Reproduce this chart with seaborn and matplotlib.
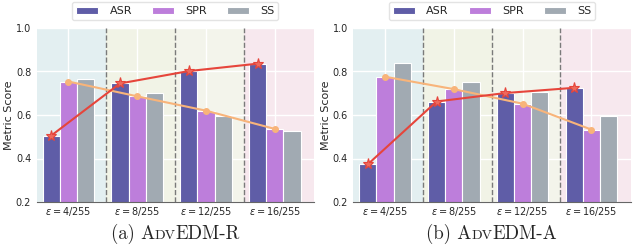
import numpy as np
import pandas as pd
import matplotlib
matplotlib.use("Agg")
import matplotlib.pyplot as plt
import seaborn as sns

# data
eps_labels = [r"$\varepsilon = 4/255$", r"$\varepsilon = 8/255$",
              r"$\varepsilon = 12/255$", r"$\varepsilon = 16/255$"]
metrics = ["ASR", "SPR", "SS"]

asr_r = [0.505, 0.745, 0.802, 0.836]
spr_r = [0.754, 0.686, 0.620, 0.536]
ss_r = [0.765, 0.700, 0.597, 0.526]

asr_a = [0.373, 0.662, 0.701, 0.725]
spr_a = [0.776, 0.719, 0.652, 0.533]
ss_a = [0.840, 0.751, 0.705, 0.595]

captions = [("(a) A", "DV", "EDM-R"), ("(b) A", "DV", "EDM-A")]

bar_colors = ["#5f5da7", "#bd7edb", "#a1aab2"]
region_colors = ["#e3eff1", "#f1f3e6", "#f3f4eb", "#f7e8ee"]
asr_line = "#e6453b"
spr_line = "#f8b47a"

sns.set_style("white")
plt.rcParams["font.family"] = ["DejaVu Sans"]

fig = plt.figure(figsize=(6.35, 2.45), dpi=100)
ax_w, ax_h = 277.3 / 635, 174 / 245
ax_b = 43 / 245
axes = [fig.add_axes([36.7 / 635, ax_b, ax_w, ax_h]),
        fig.add_axes([353.3 / 635, ax_b, ax_w, ax_h])]

panels = [(asr_r, spr_r, ss_r), (asr_a, spr_a, ss_a)]

for ax, (asr, spr, ss) in zip(axes, panels):
    df = pd.DataFrame({
        "eps": eps_labels * 3,
        "metric": np.repeat(metrics, len(eps_labels)),
        "score": asr + spr + ss,
    })
    # shaded regions per epsilon group
    edges = [-0.46, 0.55, 1.55, 2.55, 3.57]
    for i, c in enumerate(region_colors):
        ax.axvspan(edges[i], edges[i + 1], color=c, zorder=0, lw=0)
    for xv in edges[1:-1]:
        ax.axvline(xv, color="#7a7a7a", ls="--", lw=1.0, zorder=1.5)

    sns.barplot(data=df, x="eps", y="score", hue="metric", palette=bar_colors,
                width=0.75, edgecolor="white", linewidth=0.8, saturation=1,
                ax=ax, zorder=2)

    xs = np.arange(len(eps_labels))
    ax.plot(xs - 0.25, asr, color=asr_line, lw=1.5, marker="*", ms=8,
            markerfacecolor="#ee6a5e", markeredgecolor=asr_line, mew=0.8, zorder=4)
    ax.plot(xs, spr, color=spr_line, lw=1.5, marker="o", ms=4, zorder=3)

    ax.set_xlim(edges[0], edges[-1])
    ax.set_ylim(0.2, 1.0)
    ax.set_yticks([0.2, 0.4, 0.6, 0.8, 1.0])
    ax.set_xticks(xs)
    ax.set_xticklabels(eps_labels)
    ax.set_xlabel("")
    ax.set_ylabel("Metric Score", fontsize=8, labelpad=1)
    ax.tick_params(axis="y", labelsize=7, length=3, width=0.8, color="#333333", pad=1)
    ax.tick_params(axis="x", labelsize=7, length=0, pad=2)

    ax.set_axisbelow(True)
    ax.grid(True, color="white", lw=1.0)
    for s in ["left", "right", "top"]:
        ax.spines[s].set_visible(False)
    ax.spines["bottom"].set_color("#666666")
    ax.spines["bottom"].set_linewidth(0.8)

    handles, labels = ax.get_legend_handles_labels()
    ax.legend(handles, labels, ncol=3, loc="lower center",
              bbox_to_anchor=(0.5, 1.046), borderaxespad=0, fontsize=8,
              handlelength=2.0, handleheight=0.6, handletextpad=1.0,
              columnspacing=1.8, frameon=True, fancybox=True,
              edgecolor="#dddddd", borderpad=0.35)

# captions with small caps
fig.canvas.draw()
renderer = fig.canvas.get_renderer()
for ax, (p1, p2, p3) in zip(axes, captions):
    pos = ax.get_position()
    cx = (pos.x0 + pos.x1) / 2 * fig.bbox.width
    y = 6 / 245
    parts = [(p1, 13.5), (p2, 10), (p3, 13.5)]
    texts = [fig.text(0, y, s, fontsize=fs, family="cmr10", va="baseline") for s, fs in parts]
    widths = [t.get_window_extent(renderer).width for t in texts]
    x = cx - sum(widths) / 2
    for t, w in zip(texts, widths):
        t.set_x(x / fig.bbox.width)
        x += w

fig.savefig("out.png", dpi=100)
